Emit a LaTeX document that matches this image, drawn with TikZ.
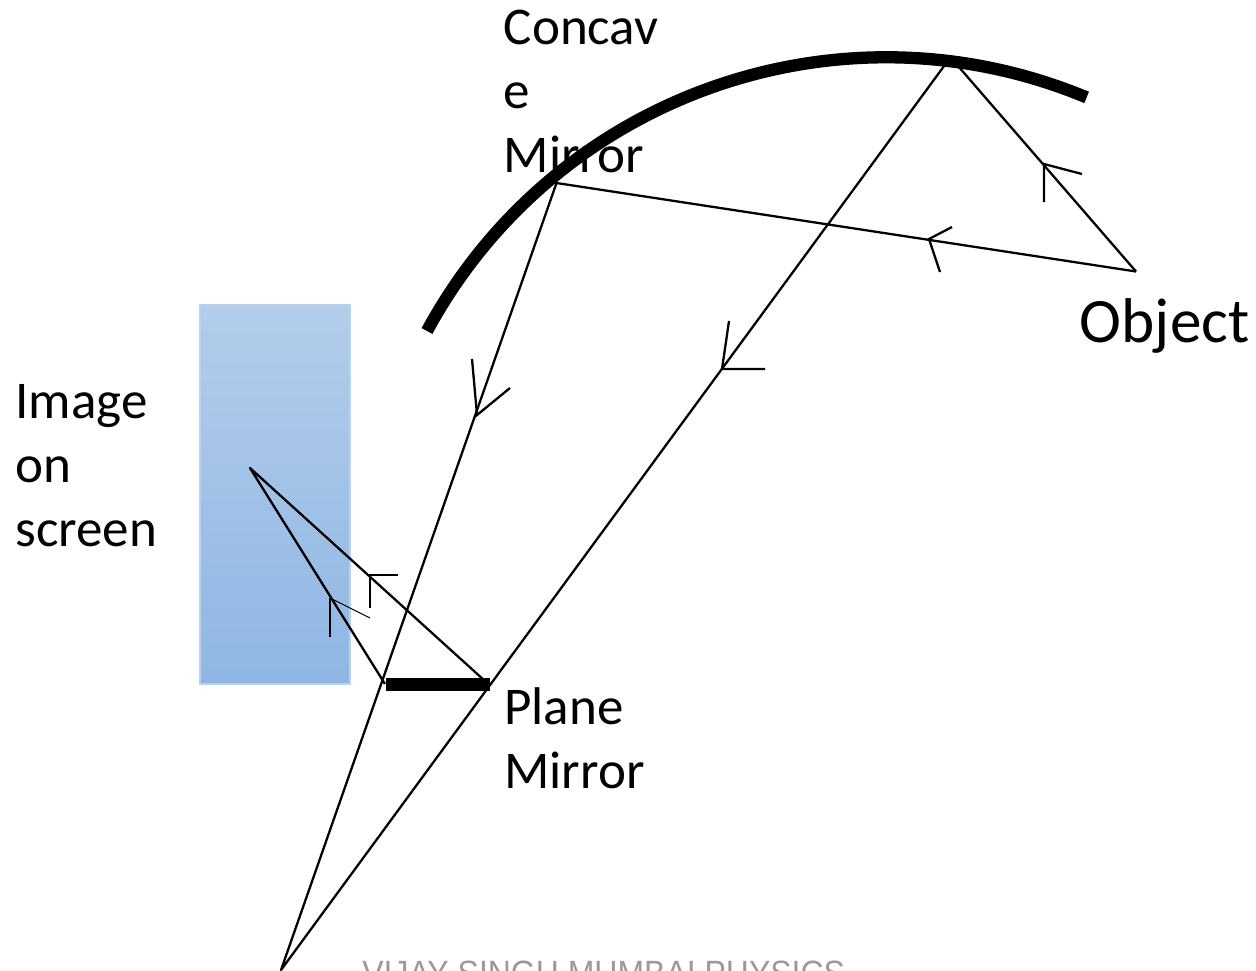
\documentclass[tikz,border=0pt]{standalone}
\usepackage{fontspec}
\setmainfont{Carlito}
\newfontfamily\markfont{Liberation Sans}
\usetikzlibrary{positioning}
\definecolor{screenTop}{HTML}{B3CDEB}
\definecolor{screenBottom}{HTML}{8FB6E3}
\definecolor{screenEdge}{HTML}{B9D1EC}
\definecolor{markGray}{HTML}{9A9A9A}

\begin{document}
\begin{tikzpicture}[
    x=0.02cm, y=-0.02cm,
    ray/.style={black, line width=1.3pt, line join=round}, % Style for the rays
    barb/.style={black, line width=1.3pt}, % Style for the open arrow heads
    mirror/.style={black, line width=7pt}, % Style for the mirrors
    labelstyle/.style={font=\fontsize{30.2pt}{36.3pt}\selectfont, align=left, inner sep=0pt, anchor=base west} % Style for labels
]

    % Fix the page
    \useasboundingbox (0,0) rectangle (1256,970);

    % Screen
    \node[minimum width=3.0cm, minimum height=7.58cm, inner sep=0pt, draw=screenEdge, line width=0.9pt,
          top color=screenTop, bottom color=screenBottom] (screen) at (275,494.5) {};

    % Define key points
    \coordinate (mirrorStart) at (427,331);
    \coordinate (planeL) at (386,684.5);
    \coordinate (planeR) at (490,684.5);
    \coordinate (object) at (1136,271.5);
    \coordinate (hitLeft) at (556.5,183);
    \coordinate (hitTopIn) at (947,62);
    \coordinate (hitTopOut) at (958,66);
    \coordinate (focus) at (281,970);
    \coordinate (image) at (250,468);
    \coordinate (bounceL) at (385,684);
    \coordinate (bounceR) at (485,681);

    % Mirrors
    \draw[mirror] (mirrorStart) arc (151.6:67.4:10.44cm);
    \draw[mirror] (planeL) -- (planeR);

    % Rays
    \draw[ray] (object) -- (hitTopOut);
    \draw[ray] (object) -- (hitLeft) -- (focus) -- (hitTopIn);
    \draw[ray] (bounceL) -- (image) -- (bounceR);

    % Open arrow heads on the rays
    \coordinate (tipA) at (1044,164);
    \coordinate (tipB) at (929,239);
    \coordinate (tipC) at (477,415);
    \coordinate (tipD) at (722,369);
    \coordinate (tipE) at (370,575);
    \coordinate (tipF) at (330,598);
    \draw[barb] (tipA) ++(0,38) -- (tipA) -- ++(38,10);
    \draw[barb] (tipB) ++(11,33) -- (tipB) -- ++(23,-12);
    \draw[barb] (tipC) ++(-5,-56) -- (tipC) -- ++(33,-27);
    \draw[barb] (tipD) ++(7,-48) -- (tipD) -- ++(43,0);
    \draw[barb] (tipE) ++(0,33) -- (tipE) -- ++(28,0);
    \draw[barb] (tipF) ++(0,39) -- (tipF);
    \draw[black, line width=0.6pt] (tipF) -- ++(40,20);

    % Add labels
    \node[labelstyle] (concaveLabel) at (503.5,172.5) {Concav\\e\\Mirror};
    \node[labelstyle] (imageLabel) at (15,546.5) {Image\\on\\screen};
    \node[labelstyle] (planeLabel) at (504,788.5) {Plane\\Mirror};
    \node[labelstyle, font=\fontsize{36pt}{40pt}\selectfont] (objectLabel) at (1079.5,342) {Object};
    \node[inner sep=0pt, anchor=base west, xscale=0.91, text=markGray, font=\markfont\fontsize{20pt}{24pt}\selectfont] (markLabel) at (362,985) {VIJAY SINGH MUMBAI PHYSICS};

\end{tikzpicture}
\end{document}
